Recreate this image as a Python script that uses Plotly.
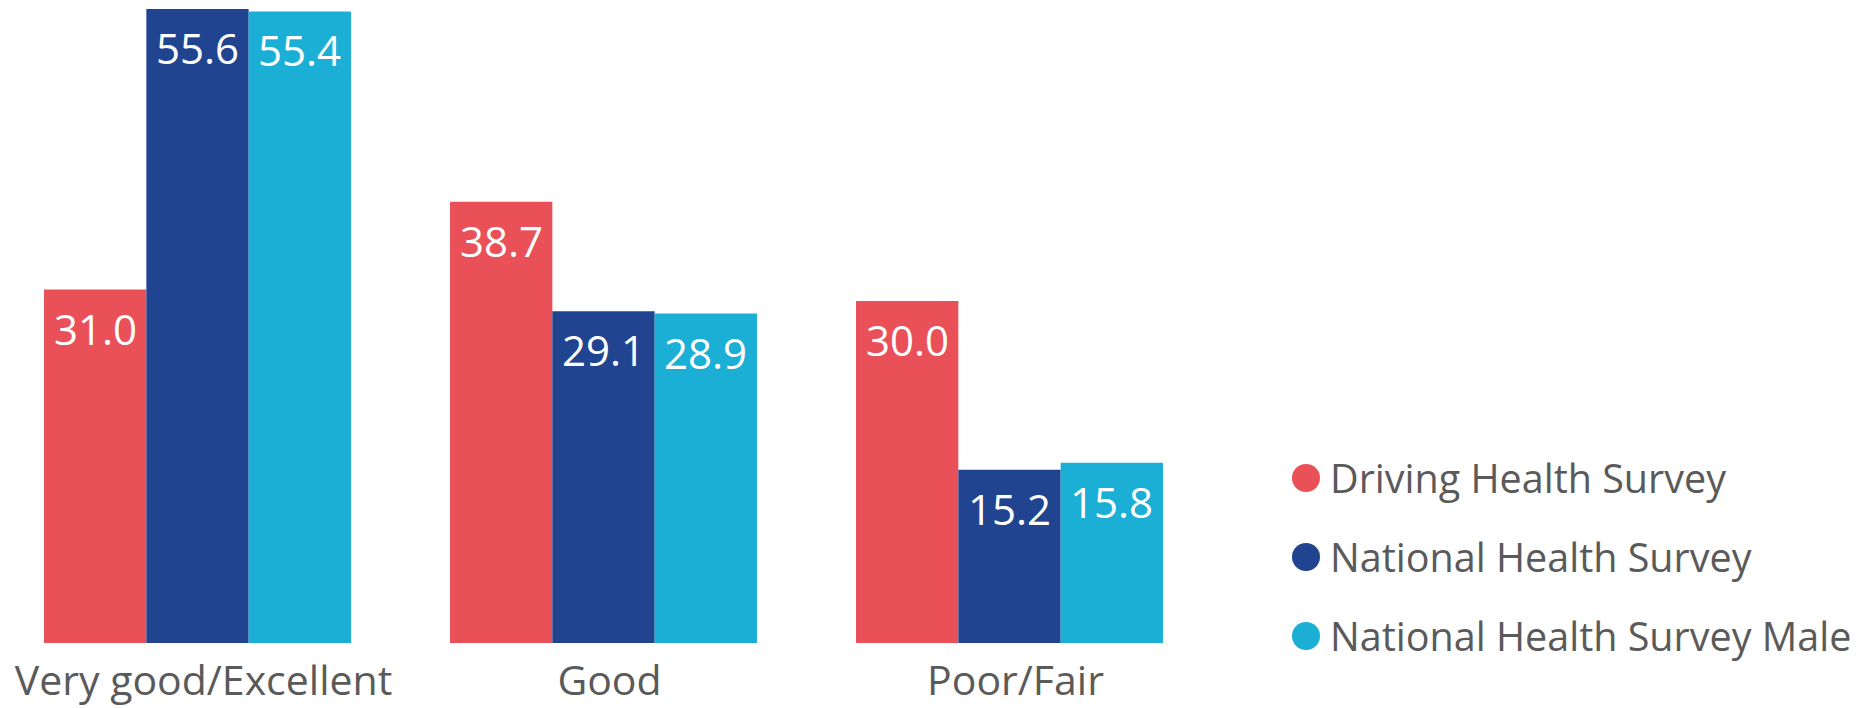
import plotly.graph_objects as go

# Self-rated health, share of respondents (%)
categories = ["Very good/Excellent", "Good", "Poor/Fair"]
series_names = ["Driving Health Survey", "National Health Survey", "National Health Survey Male"]
driving_health = [31.0, 38.7, 30.0]
national_health = [55.6, 29.1, 15.2]
national_health_male = [55.4, 28.9, 15.8]

series_values = [driving_health, national_health, national_health_male]
colors = ["#EA5058", "#20448F", "#1BAFD6"]

W, H = 1862, 708
BARGAP = 0.244
FONT = "Open Sans, Noto Sans, sans-serif"
TEXT_GREY = "#5A5A5A"
PLOT_H = 643  # height of the plotting area in px (top margin 0)

fig = go.Figure()
for name, vals, col in zip(series_names, series_values, colors):
    fig.add_trace(go.Bar(
        x=categories, y=vals, name=name,
        marker=dict(color=col, line=dict(width=0)),
        showlegend=False,
    ))

# value labels inside the top of each bar
n = len(series_values)
bar_w = (1 - BARGAP) / n
for j, vals in enumerate(series_values):
    for i, v in enumerate(vals):
        fig.add_annotation(
            x=i + (j - (n - 1) / 2) * bar_w, y=v,
            xref="x", yref="y",
            text=f"{v:.1f}", showarrow=False,
            xanchor="center", yanchor="top", yshift=-8,
            font=dict(family=FONT, size=42, color="white"),
        )

# legend: round swatches with labels
legend_px_y = [478, 557, 636]
for name, col, py in zip(series_names, colors, legend_px_y):
    yp = 1 - py / PLOT_H
    fig.add_shape(
        type="circle", xref="paper", yref="paper",
        xsizemode="pixel", ysizemode="pixel",
        xanchor=1306 / W, yanchor=yp,
        x0=-14, x1=14, y0=-14, y1=14,
        fillcolor=col, line=dict(width=0),
    )
    fig.add_annotation(
        x=1328 / W, y=yp, xref="paper", yref="paper",
        text=name, showarrow=False,
        xanchor="left", yanchor="middle",
        font=dict(family=FONT, size=39.5, color=TEXT_GREY),
    )

left_val = -197.5 / 406
right_val = (W - 197.5) / 406
fig.update_layout(
    width=W, height=H,
    margin=dict(l=0, r=0, t=0, b=H - PLOT_H),
    barmode="group", bargap=BARGAP, bargroupgap=0,
    paper_bgcolor="white", plot_bgcolor="white",
    xaxis=dict(
        range=[left_val, right_val], showgrid=False, zeroline=False,
        showline=False, ticks="",
        ticklabelstandoff=10, ticklabelshift=6,
        tickfont=dict(family=FONT, size=41, color=TEXT_GREY),
    ),
    yaxis=dict(
        range=[0, 56.4], visible=False, showgrid=False, zeroline=False,
    ),
    showlegend=False,
)

fig.write_html("out.html")
